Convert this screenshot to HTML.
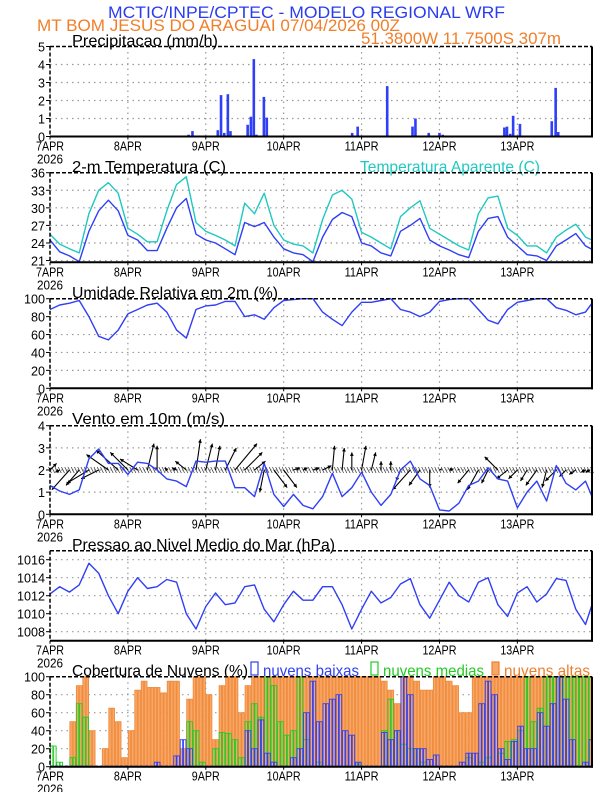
<!DOCTYPE html>
<html><head><meta charset="utf-8"><style>
body{margin:0;background:#fff}svg{display:block}
text{font-family:"Liberation Sans",sans-serif}
</style></head><body>
<svg id="s" width="612" height="792" viewBox="0 0 612 792"></svg>
<script>
const precipHours=[43.9,42.7,40,51.7,52.7,53.7,54.8,55.6,60.9,61.9,62.8,63.6,65.9,66.8,84.9,86.7,92.1,93.1,94.8,103.9,104.9,109,110.3,111.7,112.6,116.7,120,121,132.6,140,140.8,141.8,142.7,144.8,154.6,155.8,156.6,160,161];
const precipVals=[0.3,0.1,0.05,0.35,2.3,0.2,2.35,0.3,0.65,1.1,4.3,0.1,2.2,1.05,0.05,0.05,0.05,0.2,0.55,2.8,0.05,0.05,0.05,0.55,1.0,0.2,0.2,0.1,0.05,0.5,0.55,0.15,1.15,0.7,0.85,2.7,0.25,0.05,0.05];
const tempVals=[24.5,22.5,21.8,20.8,26,29.5,31.3,29.5,25.3,24.5,22.7,22.7,26.5,30,31.6,25.5,24.5,24,23,22,27.5,26.8,27.5,25,23,22.3,22,20.8,25,28,29.2,28.5,24,23.5,22.3,21.8,26,27,28.2,24.5,23.5,22.8,22,21.5,26,28.2,28.5,25,23.5,22,21.8,21,23.5,24.5,25.6,23.5,22.9];
const appTempVals=[25.5,23.8,23,22.3,29,33,34.3,32.5,26.5,25.5,24.2,24.2,29.5,34,35.3,27.5,26,25.3,24.5,23.5,30.8,29,32.5,27,24.5,23.8,23.5,22.3,28,32.2,33,31.5,25.8,25,24,23,28.5,30,31.2,26.5,25.5,24.5,23.5,22.8,29,31.7,32,26.5,25.3,23.5,23.5,22.3,25,26.2,27.2,25,24.5];
const rhVals=[88,93,95,98,80,58,54,65,83,88,93,95,85,65,56,88,92,93,97,97,80,82,77,90,98,99,100,100,85,77,70,85,96,96,98,100,88,85,80,85,97,99,100,100,88,76,72,88,96,98,100,100,90,87,82,85,95];
const windSpd=[1.3,1.05,0.9,1.1,2.5,2.95,2.3,2.3,1.8,2.35,2.3,2.0,1.6,1.5,1.25,2.4,2.35,2.4,2.4,1.2,1.2,0.8,2.3,0.9,0.35,0.9,0.4,0.25,0.8,1.85,0.8,1.2,1.9,1.0,0.4,0.9,2.0,2.4,1.6,1.3,0.2,0.15,0.5,1.3,1.5,2.1,1.6,1.5,0.3,1.0,1.5,0.6,2.2,1.4,1.1,1.5,0.8];
const windU=[0.3,-0.2,-0.8,-0.6,-1,-0.8,-1,-1,-0.8,-0.8,0.3,0,-0.1,-0.2,-0.5,0.2,0.3,0.2,0.5,1,0.8,0.5,-0.2,0.6,0.6,0.3,0.2,0.3,0.4,0.1,0.1,0,0.2,0.2,0,0,-0.2,-0.8,-0.5,0,0.1,0.2,0,-0.5,-0.5,-0.3,-0.6,-0.5,-0.4,-0.3,-0.5,-0.2,-0.5,-0.3,-0.3,-0.2,-0.2];
const windV=[0.3,-0.1,-0.9,-0.7,-0.6,-0.4,0.7,0.9,0.8,0.5,1.2,1.1,0.1,0.1,0.4,1.4,1.2,1.1,1.0,1.2,0.8,0.4,-1,-0.8,-0.8,0.1,0.1,0.1,0.2,1.1,1.0,0.8,1.1,0.8,0.4,0.4,-0.5,-0.9,-0.7,-0.8,0.05,0.05,0.05,-0.6,-0.9,-0.6,0.6,-0.4,-0.4,-0.5,-0.7,-0.8,-0.5,-0.3,-0.2,-0.1,-0.1];
const presVals=[1012.2,1013,1012.4,1013.2,1015.6,1014.5,1012,1010,1012.5,1014,1012.8,1013,1013.8,1013.5,1010,1008.3,1010.8,1012.3,1011,1011.2,1013,1013.2,1010.5,1009.1,1011,1012.5,1011.5,1011.5,1013,1013,1011,1008.3,1010.5,1012.5,1011.2,1011.8,1013.3,1013.9,1011,1009.5,1011.5,1013.5,1012,1011.3,1013.5,1014,1011,1009.7,1012.3,1013,1011.3,1012.2,1013.9,1013.7,1010.5,1008.8,1011];
const cloudHigh=[0,0,0,50,90,100,40,0,20,65,50,10,40,85,95,88,88,82,95,95,20,75,100,100,80,30,90,100,100,60,90,100,100,100,100,100,100,100,100,100,100,100,100,100,100,100,100,100,100,100,100,95,85,70,100,100,95,85,85,100,100,95,90,60,60,100,100,100,100,100,100,100,100,100,100,100,100,100,100,100,100,100,100,100];
const cloudMid=[23,5,0,10,70,55,0,0,0,0,0,0,0,0,0,0,0,0,0,0,0,50,40,5,0,20,38,37,30,10,50,70,55,100,90,50,35,40,100,30,0,5,0,0,0,0,0,3,0,0,0,40,75,40,25,20,20,5,0,0,0,0,0,0,10,0,5,10,0,15,28,30,40,100,50,65,100,100,100,100,100,100,100,100];
const cloudLow=[0,0,0,0,0,0,0,0,0,0,0,0,0,0,0,0,5,0,0,12,30,20,0,0,0,0,0,0,0,0,40,20,52,15,5,0,0,10,20,60,95,50,70,75,80,40,35,5,0,0,0,38,30,40,100,80,20,20,8,13,0,0,0,5,15,15,70,95,80,20,8,28,45,20,20,60,45,70,100,75,30,0,5,30];
const dayLabels=["7APR","8APR","9APR","10APR","11APR","12APR","13APR"];

const S=document.getElementById('s'),NS='http://www.w3.org/2000/svg';
const X0=50,X1=592,HMAX=167;
const xh=h=>X0+(X1-X0)*h/HMAX;
function el(tag,at,txt){const e=document.createElementNS(NS,tag);for(const k in at)e.setAttribute(k,at[k]);if(txt!=null)e.textContent=txt;S.appendChild(e);return e;}
function txt(x,y,s,fill,size,w,anchor){const t=el('text',{x:x,y:y,fill:fill,'font-size':size,'text-anchor':anchor||'start'},s);if(w){t.setAttribute('textLength',w);t.setAttribute('lengthAdjust','spacingAndGlyphs');}return t;}
function panel(name,top,bot,vmin,vmax,ticks,fmt){
  const ys=v=>bot-(v-vmin)/(vmax-vmin)*(bot-top);
  for(const t of ticks){const y=ys(t);
    if(Math.abs(y-top)>1&&Math.abs(y-bot)>1){const g=el('line',{x1:X0,x2:X1,y1:y,y2:y,stroke:'#999','stroke-width':1.2,'stroke-dasharray':'1.5,4'});
    }
    el('line',{x1:X0-4,x2:X0,y1:y,y2:y,stroke:'#000'});
    const s=fmt?fmt(t):String(t);
    const l=txt(X0-5,y+5,s,'#000',13,s.length*7,'end');
    }
  for(let d=1;d<7;d++){const x=xh(d*24);const g=el('line',{x1:x,x2:x,y1:top,y2:bot,stroke:'#999','stroke-width':1.2,'stroke-dasharray':'1.5,4'});
    }
  for(let d=0;d<7;d++){const x=xh(d*24);el('line',{x1:x,x2:x,y1:bot,y2:bot+3,stroke:'#000'});
    const l=txt(x,bot+14,dayLabels[d],'#000',13,d<3?28:34,'middle');
    }
  const yr=txt(X0,bot+27,'2026','#000',13,26,'middle');
  
  return ys;
}
function frame(name,top,bot){
  const g=el('g',{});
  el('line',{x1:X0,x2:X1,y1:top,y2:top,stroke:'#000','stroke-width':1.5,'stroke-dasharray':'4,2'});
  el('line',{x1:X0,x2:X0,y1:top,y2:bot,stroke:'#000','stroke-width':1.5,'stroke-dasharray':'4,2'});
  el('line',{x1:X1,x2:X1,y1:top,y2:bot+1,stroke:'#000','stroke-width':2});
  el('line',{x1:X0,x2:X1+1,y1:bot,y2:bot,stroke:'#000','stroke-width':2});
}
function line(vals,ys,color,name){
  const p=vals.map((v,i)=>(i?'L':'M')+Math.min(xh(i*3),X1).toFixed(1)+','+ys(v).toFixed(1)).join('');
  const e=el('path',{d:p,fill:'none',stroke:color,'stroke-width':1.4,'stroke-linejoin':'round'});
  
}
// headers
let t=txt(108,18,'MCTIC/INPE/CPTEC - MODELO REGIONAL WRF','#2a3cf0',17,397);
t=txt(37,31,'MT BOM JESUS DO ARAGUAI   07/04/2026 00Z','#f07f2a',17,363);
t=txt(361,44,'51.3800W 11.7500S 307m','#f07f2a',17,200);

// Panel 1 precipitation
let ys=panel('precip',46.5,136.5,0,5,[0,1,2,3,4,5]);
t=txt(72,46,'Precipitacao (mm/h)','#000',16,146);
precipHours.forEach((h,i)=>{const y=ys(precipVals[i]);const b=el('rect',{x:xh(h)-1.3,y:y,width:2.6,height:ys(0)-y,fill:'#2f3ff5'});
});
frame('precip',46.5,136.5);

// Panel 2 temperature
ys=panel('temp',172.7,262.3,20.7,36,[21,24,27,30,33,36]);
t=txt(72,172,'2-m Temperatura (C)','#000',16,154);
t=txt(360,172,'Temperatura Aparente (C)','#20c8c0',16,180);
line(appTempVals,ys,'#20c8c0','apparent-temp-line');
line(tempVals,ys,'#2f3ff5','temp-line');
frame('temp',172.7,262.3);

// Panel 3 RH
ys=panel('rh',298.7,388.3,0,100,[0,20,40,60,80,100]);
t=txt(72,298,'Umidade Relativa em 2m (%)','#000',16,206);
line(rhVals,ys,'#2f3ff5','rh-line');
frame('rh',298.7,388.3);

// Panel 4 wind
ys=panel('wind',425.7,514.3,0,4,[0,1,2,3,4]);
t=txt(72,424,'Vento em 10m (m/s)','#000',16,153);
for(let h=0;h<=HMAX;h++){const q=el('line',{x1:xh(h)-1.5,x2:xh(h)+1.5,y1:ys(2)-3,y2:ys(2)+3,stroke:'#444','stroke-width':0.8});}
windU.forEach((u,i)=>{const x=Math.min(xh(i*3),X1-2),y=ys(2),k=22;const tx=x+u*k,ty=y-windV[i]*k;
 const a=el('line',{x1:x,y1:y,x2:tx,y2:ty,stroke:'#000','stroke-width':1.1});
 
 const ang=Math.atan2(ty-y,tx-x),L=Math.hypot(tx-x,ty-y);if(L>3){
 const p=[[tx,ty],[tx-4*Math.cos(ang-0.5),ty-4*Math.sin(ang-0.5)],[tx-4*Math.cos(ang+0.5),ty-4*Math.sin(ang+0.5)]];
 const h=el('polygon',{points:p.map(q=>q.join(',')).join(' '),fill:'#000'});
 }});
line(windSpd,ys,'#2f3ff5','wind-speed-line');
frame('wind',425.7,514.3);

// Panel 5 pressure
ys=panel('pressure',550.7,640.7,1007,1017,[1008,1010,1012,1014,1016]);
t=txt(72,550,'Pressao ao Nivel Medio do Mar (hPa)','#000',16,263);
line(presVals,ys,'#2f3ff5','pressure-line');
frame('pressure',550.7,640.7);

// Panel 6 clouds
ys=panel('clouds',676.7,766.7,0,100,[0,20,40,60,80,100]);
t=txt(72,676,'Cobertura de Nuvens (%)','#000',16,176);
const leg=[['nuvens baixas','#2f3ff5','#fff',251,96],['nuvens medias','#22cc22','#fff',371,101],['nuvens altas','#f07f2a','#f7a868',492,86]];
leg.forEach(l=>{const r=el('rect',{x:l[3],y:662,width:7,height:13,fill:l[2],stroke:l[1],'stroke-width':1.2});

const tt=txt(l[3]+12,676,l[0],l[1],16,l[4]);});
const bw=xh(1)-xh(0);
function bars(vals,fill,stroke,name){vals.forEach((v,i)=>{if(v<=0)return;for(let s=0;s<2;s++){const x=xh(i*2+s),y=ys(v);
 const w=Math.max(0,Math.min(bw-0.8,X1-x-0.5));if(w<=0)continue;
 const b=el('rect',{x:x+0.4,y:y,width:w,height:ys(0)-y,fill:fill,stroke:stroke,'stroke-width':0.9});
 }});}
bars(cloudHigh,'#f7a868','#f08a3a','cloud-high-bar');
bars(cloudMid,'none','#22cc22','cloud-mid-bar');
bars(cloudLow,'none','#2f3ff5','cloud-low-bar');
el('line',{x1:X0,x2:X1,y1:ys(0)-0.5,y2:ys(0)-0.5,stroke:'#2f3ff5','stroke-width':1.5,'stroke-dasharray':'3,2'});
frame('clouds',676.7,766.7);
</script>
</body></html>
